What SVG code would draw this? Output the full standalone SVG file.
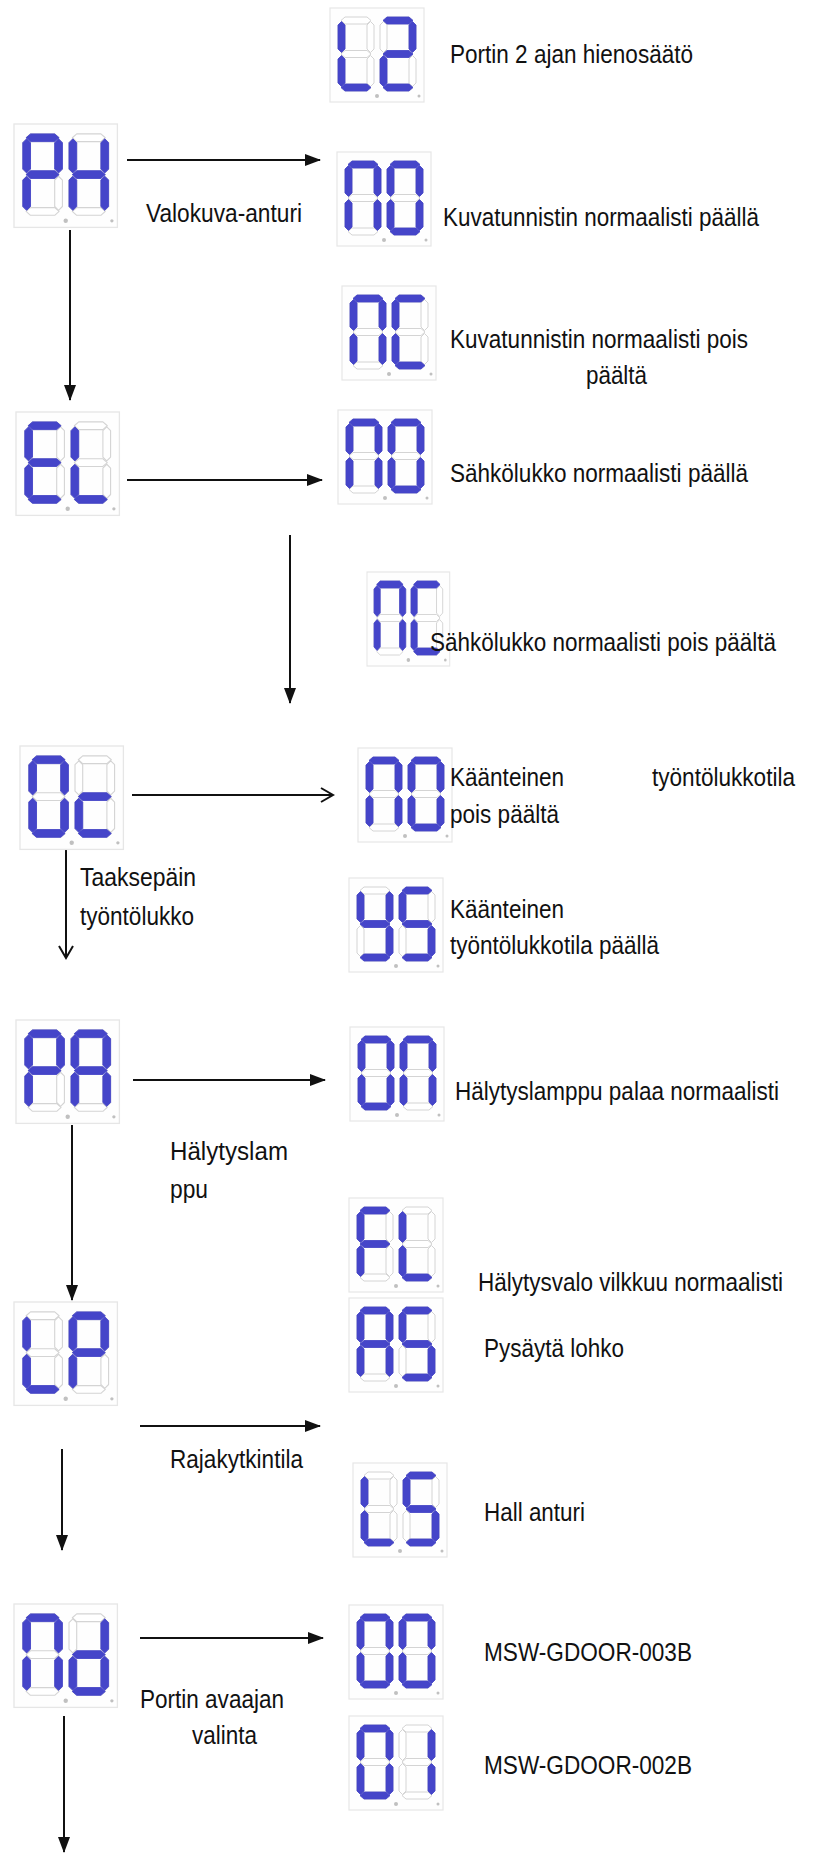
<svg xmlns="http://www.w3.org/2000/svg" xmlns:xlink="http://www.w3.org/1999/xlink" width="840" height="1856" viewBox="0 0 840 1856">
<style>
.on{fill:#4545c9;stroke:#4545c9;stroke-width:0.8;stroke-linejoin:round}
.off{fill:#ffffff;stroke:#d4d4d4;stroke-width:1;stroke-linejoin:round}
.frame{fill:#fefefe;stroke:#e6e6e6;stroke-width:1.2}
.dot{fill:#c0c0c0}
.t{font-family:"Liberation Sans Narrow","Liberation Sans",Arial,sans-serif;font-size:26px;fill:#111}
.ln{stroke:#111;stroke-width:2;fill:none}
</style>
<defs>
<path id="sa" d="M7,0 H29 L33,3.5 L29,7 H7 L3,3.5 Z"/>
<path id="sg" d="M7,33.5 H29 L33,37 L29,40.5 H7 L3,37 Z"/>
<path id="sd" d="M7,67 H29 L33,70.5 L29,74 H7 L3,70.5 Z"/>
<path id="sf" d="M0,8 L3.5,4.5 L7,8 V32 L3.5,35.5 L0,32 Z"/>
<path id="sb" d="M29,8 L32.5,4.5 L36,8 V32 L32.5,35.5 L29,32 Z"/>
<path id="se" d="M0,42 L3.5,38.5 L7,42 V66 L3.5,69.5 L0,66 Z"/>
<path id="sc" d="M29,42 L32.5,38.5 L36,42 V66 L32.5,69.5 L29,66 Z"/>
<g id="off" class="off"><use href="#sa"/><use href="#sb"/><use href="#sc"/><use href="#sd"/><use href="#se"/><use href="#sf"/><use href="#sg"/></g>
<g id="gL"><use href="#sd"/><use href="#se"/><use href="#sf"/></g>
<g id="g2"><use href="#sa"/><use href="#sb"/><use href="#sg"/><use href="#se"/><use href="#sd"/></g>
<g id="gP"><use href="#sa"/><use href="#sb"/><use href="#sf"/><use href="#sg"/><use href="#se"/></g>
<g id="gH"><use href="#sb"/><use href="#sc"/><use href="#se"/><use href="#sf"/><use href="#sg"/></g>
<g id="gn"><use href="#sa"/><use href="#sb"/><use href="#sc"/><use href="#se"/><use href="#sf"/></g>
<g id="g0"><use href="#sa"/><use href="#sb"/><use href="#sc"/><use href="#sd"/><use href="#se"/><use href="#sf"/></g>
<g id="gC"><use href="#sa"/><use href="#sd"/><use href="#se"/><use href="#sf"/></g>
<g id="gE"><use href="#sa"/><use href="#sd"/><use href="#se"/><use href="#sf"/><use href="#sg"/></g>
<g id="gc"><use href="#sd"/><use href="#se"/><use href="#sg"/></g>
<g id="g5"><use href="#sa"/><use href="#sc"/><use href="#sd"/><use href="#sf"/><use href="#sg"/></g>
<g id="gY"><use href="#sb"/><use href="#sc"/><use href="#sd"/><use href="#sf"/><use href="#sg"/></g>
<g id="gA"><use href="#sa"/><use href="#sb"/><use href="#sc"/><use href="#se"/><use href="#sf"/><use href="#sg"/></g>
<g id="gF"><use href="#sa"/><use href="#se"/><use href="#sf"/><use href="#sg"/></g>
<g id="gd"><use href="#sb"/><use href="#sc"/><use href="#sd"/><use href="#se"/><use href="#sg"/></g>
<g id="g1"><use href="#sb"/><use href="#sc"/></g>
<g id="disp">
<rect class="frame" x="0" y="0" width="94" height="94"/>
<use href="#off" transform="translate(8,9)"/>
<use href="#off" transform="translate(50,9)"/>
<circle class="dot" cx="47" cy="88" r="2"/>
<circle class="dot" cx="89" cy="88" r="1.5"/>
</g>
<marker id="ah" markerUnits="userSpaceOnUse" markerWidth="16" markerHeight="12" refX="15" refY="6" orient="auto">
<path d="M0,0 L16,6 L0,12 Z" fill="#111"/>
</marker>
<marker id="ao" markerUnits="userSpaceOnUse" markerWidth="16" markerHeight="16" refX="13" refY="8" orient="auto">
<path d="M1,1 L13,8 L1,15" fill="none" stroke="#111" stroke-width="2"/>
</marker>
</defs>

<g id="connectors">
<path class="ln" d="M127,160 H320" marker-end="url(#ah)"/>
<path class="ln" d="M70,230 V400" marker-end="url(#ah)"/>
<path class="ln" d="M127,480 H322" marker-end="url(#ah)"/>
<path class="ln" d="M290,535 V703" marker-end="url(#ah)"/>
<path class="ln" d="M132,795 H333" marker-end="url(#ao)"/>
<path class="ln" d="M66,848 V958" marker-end="url(#ao)"/>
<path class="ln" d="M133,1080 H325" marker-end="url(#ah)"/>
<path class="ln" d="M72,1125 V1300" marker-end="url(#ah)"/>
<path class="ln" d="M140,1426 H320" marker-end="url(#ah)"/>
<path class="ln" d="M62,1449 V1550" marker-end="url(#ah)"/>
<path class="ln" d="M140,1638 H323" marker-end="url(#ah)"/>
<path class="ln" d="M64,1716 V1852" marker-end="url(#ah)"/>
</g>

<g id="n-PH" transform="translate(14,124) scale(1.1)"><use href="#disp"/><use href="#gP" class="on" transform="translate(8,9)"/><use href="#gH" class="on" transform="translate(50,9)"/></g>
<g id="n-EL" transform="translate(16,412) scale(1.1)"><use href="#disp"/><use href="#gE" class="on" transform="translate(8,9)"/><use href="#gL" class="on" transform="translate(50,9)"/></g>
<g id="n-OC" transform="translate(20,746) scale(1.1)"><use href="#disp"/><use href="#g0" class="on" transform="translate(8,9)"/><use href="#gc" class="on" transform="translate(50,9)"/></g>
<g id="n-PA" transform="translate(16,1020) scale(1.1)"><use href="#disp"/><use href="#gP" class="on" transform="translate(8,9)"/><use href="#gA" class="on" transform="translate(50,9)"/></g>
<g id="n-LP" transform="translate(14,1302) scale(1.1)"><use href="#disp"/><use href="#gL" class="on" transform="translate(8,9)"/><use href="#gP" class="on" transform="translate(50,9)"/></g>
<g id="n-Nd" transform="translate(14,1604) scale(1.1)"><use href="#disp"/><use href="#gn" class="on" transform="translate(8,9)"/><use href="#gd" class="on" transform="translate(50,9)"/></g>

<g id="n-L2" transform="translate(330,8)"><use href="#disp"/><use href="#gL" class="on" transform="translate(8,9)"/><use href="#g2" class="on" transform="translate(50,9)"/></g>
<g id="n-NO1" transform="translate(337,152)"><use href="#disp"/><use href="#gn" class="on" transform="translate(8,9)"/><use href="#g0" class="on" transform="translate(50,9)"/></g>
<g id="n-NC1" transform="translate(342,286)"><use href="#disp"/><use href="#gn" class="on" transform="translate(8,9)"/><use href="#gC" class="on" transform="translate(50,9)"/></g>
<g id="n-NO2" transform="translate(338,410)"><use href="#disp"/><use href="#gn" class="on" transform="translate(8,9)"/><use href="#g0" class="on" transform="translate(50,9)"/></g>
<g id="n-NC2" transform="translate(367,572) scale(0.88,1)"><use href="#disp"/><use href="#gn" class="on" transform="translate(8,9)"/><use href="#gC" class="on" transform="translate(50,9)"/></g>
<g id="n-NO3" transform="translate(358,748)"><use href="#disp"/><use href="#gn" class="on" transform="translate(8,9)"/><use href="#g0" class="on" transform="translate(50,9)"/></g>
<g id="n-YS" transform="translate(349,878)"><use href="#disp"/><use href="#gY" class="on" transform="translate(8,9)"/><use href="#g5" class="on" transform="translate(50,9)"/></g>
<g id="n-00a" transform="translate(350,1027)"><use href="#disp"/><use href="#g0" class="on" transform="translate(8,9)"/><use href="#gn" class="on" transform="translate(50,9)"/></g>
<g id="n-FL" transform="translate(349,1198)"><use href="#disp"/><use href="#gF" class="on" transform="translate(8,9)"/><use href="#gL" class="on" transform="translate(50,9)"/></g>
<g id="n-AS" transform="translate(349,1298)"><use href="#disp"/><use href="#gA" class="on" transform="translate(8,9)"/><use href="#g5" class="on" transform="translate(50,9)"/></g>
<g id="n-LS" transform="translate(353,1463)"><use href="#disp"/><use href="#gL" class="on" transform="translate(8,9)"/><use href="#g5" class="on" transform="translate(50,9)"/></g>
<g id="n-00b" transform="translate(349,1605)"><use href="#disp"/><use href="#g0" class="on" transform="translate(8,9)"/><use href="#g0" class="on" transform="translate(50,9)"/></g>
<g id="n-01" transform="translate(349,1716)"><use href="#disp"/><use href="#g0" class="on" transform="translate(8,9)"/><use href="#g1" class="on" transform="translate(50,9)"/></g>

<g id="labels">
<text class="t" x="450" y="63" textLength="243" lengthAdjust="spacingAndGlyphs">Portin 2 ajan hienosäätö</text>
<text class="t" x="146" y="222" textLength="156" lengthAdjust="spacingAndGlyphs">Valokuva-anturi</text>
<text class="t" x="443" y="226" textLength="316" lengthAdjust="spacingAndGlyphs">Kuvatunnistin normaalisti päällä</text>
<text class="t" x="450" y="348" textLength="298" lengthAdjust="spacingAndGlyphs">Kuvatunnistin normaalisti pois</text>
<text class="t" x="586" y="384" textLength="61" lengthAdjust="spacingAndGlyphs">päältä</text>
<text class="t" x="450" y="482" textLength="298" lengthAdjust="spacingAndGlyphs">Sähkölukko normaalisti päällä</text>
<text class="t" x="430" y="651" textLength="346" lengthAdjust="spacingAndGlyphs">Sähkölukko normaalisti pois päältä</text>
<text class="t" x="450" y="786" textLength="114" lengthAdjust="spacingAndGlyphs">Käänteinen</text>
<text class="t" x="652" y="786" textLength="143" lengthAdjust="spacingAndGlyphs">työntölukkotila</text>
<text class="t" x="450" y="823" textLength="109" lengthAdjust="spacingAndGlyphs">pois päältä</text>
<text class="t" x="80" y="886" textLength="116" lengthAdjust="spacingAndGlyphs">Taaksepäin</text>
<text class="t" x="80" y="925" textLength="114" lengthAdjust="spacingAndGlyphs">työntölukko</text>
<text class="t" x="450" y="918" textLength="114" lengthAdjust="spacingAndGlyphs">Käänteinen</text>
<text class="t" x="450" y="954" textLength="209" lengthAdjust="spacingAndGlyphs">työntölukkotila päällä</text>
<text class="t" x="455" y="1100" textLength="324" lengthAdjust="spacingAndGlyphs">Hälytyslamppu palaa normaalisti</text>
<text class="t" x="170" y="1160" textLength="118" lengthAdjust="spacingAndGlyphs">Hälytyslam</text>
<text class="t" x="170" y="1198" textLength="38" lengthAdjust="spacingAndGlyphs">ppu</text>
<text class="t" x="478" y="1291" textLength="305" lengthAdjust="spacingAndGlyphs">Hälytysvalo vilkkuu normaalisti</text>
<text class="t" x="484" y="1357" textLength="140" lengthAdjust="spacingAndGlyphs">Pysäytä lohko</text>
<text class="t" x="170" y="1468" textLength="133" lengthAdjust="spacingAndGlyphs">Rajakytkintila</text>
<text class="t" x="484" y="1521" textLength="101" lengthAdjust="spacingAndGlyphs">Hall anturi</text>
<text class="t" x="484" y="1661" textLength="208" lengthAdjust="spacingAndGlyphs">MSW-GDOOR-003B</text>
<text class="t" x="140" y="1708" textLength="144" lengthAdjust="spacingAndGlyphs">Portin avaajan</text>
<text class="t" x="192" y="1744" textLength="65" lengthAdjust="spacingAndGlyphs">valinta</text>
<text class="t" x="484" y="1774" textLength="208" lengthAdjust="spacingAndGlyphs">MSW-GDOOR-002B</text>
</g>
</svg>
